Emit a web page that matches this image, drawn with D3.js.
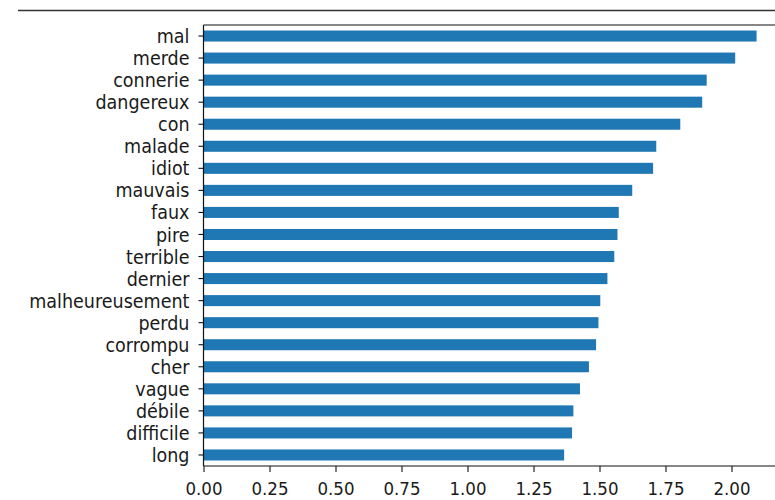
<!DOCTYPE html>
<html>
<head>
<meta charset="utf-8">
<script src="https://cdn.jsdelivr.net/npm/d3@7"></script>
<style>
  html, body { margin: 0; padding: 0; background: #fff; }
  svg { display: block; }
  .lbl { font-family: "DejaVu Sans", sans-serif; font-stretch: condensed; fill: #1a1a1a; }
</style>
</head>
<body>
<svg id="chart" width="775" height="500"></svg>
<script>
const categories = ["mal","merde","connerie","dangereux","con","malade","idiot","mauvais","faux","pire","terrible","dernier","malheureusement","perdu","corrompu","cher","vague","débile","difficile","long"];
const values = [2.095,2.014,1.906,1.889,1.806,1.715,1.703,1.624,1.573,1.568,1.556,1.530,1.503,1.496,1.487,1.460,1.426,1.401,1.396,1.366];
const xTicks = [0.00,0.25,0.50,0.75,1.00,1.25,1.50,1.75,2.00];

(function () {
const svg = d3.select("#chart");
const mLeft = 203.5, mTop = 25, mBottom = 466;
const xMax = 2.2;
const x = d3.scaleLinear().domain([0, xMax]).range([mLeft, mLeft + xMax * 264]);
const y = d3.scaleBand().domain(categories).range([mTop, mBottom]).paddingInner(0.5).paddingOuter(0.25);

// top separator line
svg.append("line").attr("x1", 18).attr("x2", 775).attr("y1", 10.5).attr("y2", 10.5)
  .attr("stroke", "#333").attr("stroke-width", 1.3);

// bars
svg.append("g").selectAll("rect").data(categories).join("rect")
  .attr("x", x(0))
  .attr("y", d => y(d))
  .attr("width", (d, i) => x(values[i]) - x(0))
  .attr("height", y.bandwidth())
  .attr("fill", "#1f77b4");

// spines
svg.append("line").attr("x1", mLeft).attr("x2", mLeft).attr("y1", mTop).attr("y2", mBottom)
  .attr("stroke", "#111").attr("stroke-width", 1.2);
svg.append("line").attr("x1", mLeft).attr("x2", 775).attr("y1", mTop).attr("y2", mTop)
  .attr("stroke", "#111").attr("stroke-width", 1.2);
svg.append("line").attr("x1", mLeft).attr("x2", 775).attr("y1", mBottom).attr("y2", mBottom)
  .attr("stroke", "#111").attr("stroke-width", 1.2);

// y axis
const yAxis = d3.axisLeft(y).tickSize(5).tickPadding(9);
const gy = svg.append("g").attr("transform", `translate(${mLeft},0)`).call(yAxis);
gy.select(".domain").remove();
gy.selectAll(".tick line").attr("stroke", "#111").attr("stroke-width", 1.1);
gy.selectAll(".tick text").attr("class", "lbl").style("font-size", "19.5px")
  .attr("dy", "0.36em");

// x axis
const xAxis = d3.axisBottom(x).tickValues(xTicks).tickFormat(d3.format(".2f")).tickSize(6).tickPadding(10);
const gx = svg.append("g").attr("transform", `translate(0,${mBottom})`).call(xAxis);
gx.select(".domain").remove();
gx.selectAll(".tick line").attr("stroke", "#111").attr("stroke-width", 1.1);
gx.selectAll(".tick text").attr("class", "lbl").style("font-size", "18.5px");
})();
</script>
</body>
</html>
